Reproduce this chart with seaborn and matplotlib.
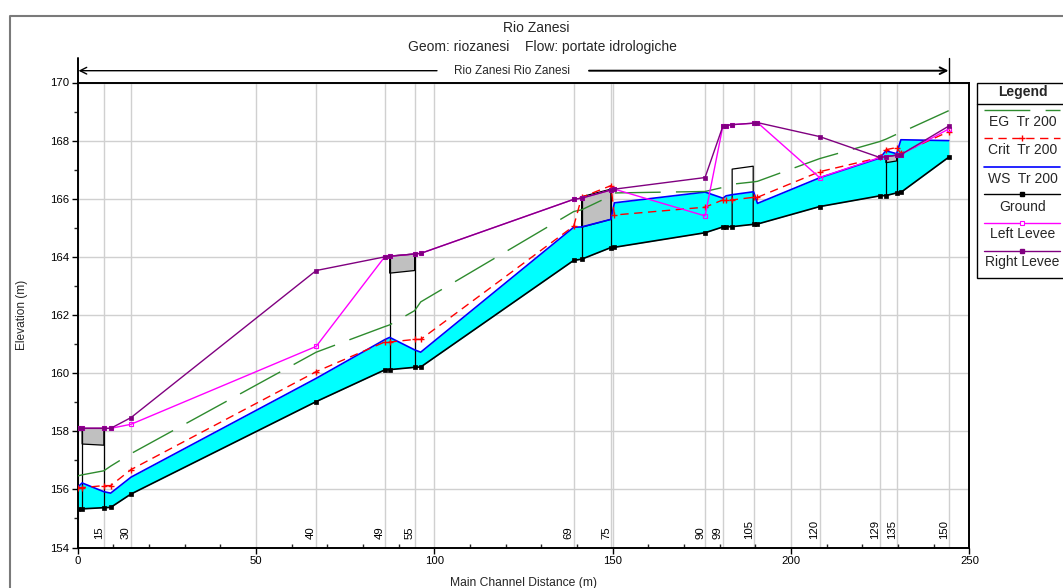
import numpy as np
import pandas as pd
import matplotlib
matplotlib.use("Agg")
import matplotlib.pyplot as plt
import seaborn as sns
from matplotlib.lines import Line2D
from matplotlib.patches import Rectangle

# ---- profile data (main channel distance in m, elevations in m) ----
dist = [0.0, 1.3, 7.4, 9.3, 15.0, 66.9, 86.1, 87.5, 94.5, 96.2,
        139.1, 141.3, 149.5, 150.5, 175.9, 180.9, 181.8, 183.5, 189.5, 190.6,
        208.0, 224.9, 226.6, 229.6, 230.8, 244.2]
ground = [155.32, 155.33, 155.37, 155.38, 155.84, 159.02, 160.11, 160.12, 160.20, 160.21,
          163.88, 163.92, 164.32, 164.33, 164.83, 165.03, 165.04, 165.04, 165.12, 165.13,
          165.73, 166.10, 166.11, 166.20, 166.22, 167.43]
ws_tr200 = [156.07, 156.22, 155.92, 155.87, 156.42, 159.82, 161.15, 161.23, 160.80, 160.72,
            165.02, 165.03, 165.29, 165.86, 166.23, 166.02, 166.10, 166.14, 166.24, 165.84,
            166.72, 167.40, 167.65, 167.55, 168.03, 168.00]
crit_tr200 = [156.06, 156.06, 156.13, 156.13, 156.68, 160.05, 161.07, 161.07, 161.16, 161.16,
              165.06, 166.05, 166.45, 165.44, 165.71, 165.96, 165.96, 165.96, 166.05, 166.05,
              166.93, 167.42, 167.69, 167.76, 167.56, 168.31]
eg_tr200 = [156.46, 156.50, 156.64, 156.80, 157.23, 160.72, 161.60, 161.66, 162.15, 162.45,
            165.56, 165.62, 166.10, 166.20, 166.25, 166.39, 166.42, 166.50, 166.58, 166.60,
            167.38, 167.97, 168.05, 168.22, 168.28, 169.03]
left_levee = [158.10, 158.10, 158.10, 158.10, 158.24, 160.92, 164.00, 164.02, 164.10, 164.12,
              165.98, 166.02, 166.30, 166.33, 165.41, 168.50, 168.52, 168.55, 168.60, 168.62,
              166.73, 167.42, 167.45, 167.50, 167.52, 168.40]
right_levee = [158.10, 158.10, 158.10, 158.10, 158.47, 163.53, 164.00, 164.02, 164.10, 164.12,
               165.98, 166.02, 166.30, 166.33, 166.73, 168.50, 168.52, 168.55, 168.60, 168.62,
               168.14, 167.42, 167.45, 167.50, 167.52, 168.50]

# bridge decks
deck_x0 = [1.3, 87.5, 141.3, 226.6]
deck_x1 = [7.4, 94.5, 149.5, 229.6]
deck_top0 = [158.10, 164.03, 166.07, 167.45]
deck_top1 = [158.10, 164.10, 166.33, 167.50]
deck_low0 = [157.56, 163.44, 165.02, 167.24]
deck_low1 = [157.52, 163.53, 165.29, 167.30]

# open structure (culvert outline)
culv_x = [183.5, 189.4]
culv_top = [167.02, 167.12]

# river station labels
station_labels = ["15", "30", "40", "49", "55", "69", "75", "90", "99", "105",
                  "120", "129", "135", "150"]
station_pos = [7.4, 15.0, 66.9, 86.1, 94.5, 139.1, 149.6, 175.9, 180.9, 189.6,
               208.0, 224.9, 229.6, 244.2]

df = pd.DataFrame({"dist": dist, "ground": ground, "ws": ws_tr200, "crit": crit_tr200,
                   "eg": eg_tr200, "ll": left_levee, "rl": right_levee})

sns.set_theme(style="ticks")
plt.rcParams["font.family"] = ["Liberation Sans", "DejaVu Sans"]

W, H = 1063, 588
fig = plt.figure(figsize=(W / 100, H / 100), dpi=100)


def fx(px):
    return px / W


def fy(py):
    return 1 - py / H


ax = fig.add_axes([fx(77.5), fy(547.5), fx(969.4) - fx(77.5), fy(82.5) - fy(547.5)])

GRID = "#d0d0d0"
ax.set_xlim(0, 250)
ax.set_ylim(154, 170)
ax.set_xticks(np.arange(0, 251, 50))
ax.set_yticks(np.arange(154, 171, 2))
ax.set_xticks(np.arange(0, 251, 10), minor=True)
ax.set_yticks(np.arange(154, 171, 1), minor=True)
ax.grid(True, which="major", color=GRID, lw=1.0, zorder=0)
ax.set_axisbelow(True)
for xs in station_pos:
    ax.axvline(xs, color=GRID, lw=1.0, zorder=0.5)

# water between ground and water surface
ax.fill_between(df["dist"], df["ground"], df["ws"], color="#00ffff", lw=0, zorder=1)

# bridge decks
for x0, x1, t0, t1, l0, l1 in zip(deck_x0, deck_x1, deck_top0, deck_top1, deck_low0, deck_low1):
    ax.fill([x0, x1, x1, x0], [l0, l1, t1, t0], facecolor="#c0c0c0", edgecolor="black",
            lw=0.9, zorder=3)
    g0 = np.interp(x0, dist, ground)
    g1 = np.interp(x1, dist, ground)
    ax.plot([x0, x0], [g0, t0], color="black", lw=0.9, zorder=3)
    ax.plot([x1, x1], [g1, t1], color="black", lw=0.9, zorder=3)

cg0 = np.interp(culv_x[0], dist, ground)
cg1 = np.interp(culv_x[1], dist, ground)
ax.plot([culv_x[0], culv_x[0], culv_x[1], culv_x[1]], [cg0, culv_top[0], culv_top[1], cg1],
        color="black", lw=0.9, zorder=3)

# profile lines
sns.lineplot(data=df, x="dist", y="ws", ax=ax, color="#0000ff", lw=1.2,
             estimator=None, sort=False, zorder=4)
sns.lineplot(data=df, x="dist", y="ground", ax=ax, color="black", lw=1.2, marker="s",
             ms=3.5, mec="black", mew=0.5, estimator=None, sort=False, zorder=5)
sns.lineplot(data=df, x="dist", y="eg", ax=ax, color="#2e8b2e", lw=1.0,
             linestyle=(0, (33, 11)), estimator=None, sort=False, zorder=5)
sns.lineplot(data=df, x="dist", y="crit", ax=ax, color="#ff0000", lw=1.0,
             linestyle=(0, (6, 4)), marker="+", ms=5, mew=1.0, mec="#ff0000",
             estimator=None, sort=False, zorder=6)
sns.lineplot(data=df, x="dist", y="ll", ax=ax, color="#ff00ff", lw=1.0, marker="s",
             ms=3.5, mfc="none", mec="#ff00ff", mew=0.8, estimator=None, sort=False, zorder=6)
sns.lineplot(data=df, x="dist", y="rl", ax=ax, color="#800080", lw=1.0, marker="s",
             ms=3.5, mec="#800080", mew=0.5, estimator=None, sort=False, zorder=7)

# river station labels
for lab, xs in zip(station_labels, station_pos):
    ax.annotate(lab, xy=(xs, 154), xycoords="data", xytext=(-3.6, 5.8),
                textcoords="offset points", rotation=90, ha="center", va="bottom",
                fontsize=8.2, color="black", zorder=8)

# axes styling
for sp in ax.spines.values():
    sp.set_color("black")
    sp.set_linewidth(1.4)
ax.tick_params(axis="both", which="major", direction="out", length=4, width=1,
               labelsize=8.2, colors="black", pad=2, bottom=True, left=True)
ax.tick_params(axis="x", which="minor", direction="in", length=3, width=1, bottom=True)
ax.tick_params(axis="y", which="minor", direction="out", length=3, width=1, left=True)
ax.set_xlabel("Main Channel Distance (m)", fontsize=8.7)
ax.set_ylabel("Elevation (m)", fontsize=8.6)
ax.xaxis.set_label_coords(0.5, -0.063)
ax.yaxis.set_label_coords(-0.056, 0.5)

# outer frame
fig.add_artist(Line2D([fx(9.6), fx(9.6), fx(1070)], [fy(600), fy(15.7), fy(15.7)],
                      color="#7a7a7a", lw=1.5, transform=fig.transFigure))

# titles
fig.text(fx(536), fy(28.3), "Rio Zanesi", ha="center", va="center", fontsize=10)
fig.text(fx(509), fy(46.7), "Geom: riozanesi", ha="right", va="center", fontsize=10)
fig.text(fx(525), fy(46.7), "Flow: portate idrologiche", ha="left", va="center", fontsize=10)

# reach bar
fig.text(fx(512.5), fy(70.7), "Rio Zanesi Rio Zanesi", ha="center", va="center", fontsize=8.5)
ax.annotate("", xy=(fx(78.5), fy(70.7)), xytext=(fx(437), fy(70.7)),
            xycoords="figure fraction", textcoords="figure fraction",
            arrowprops=dict(arrowstyle="->", lw=1.0, color="black", shrinkA=0, shrinkB=0),
            annotation_clip=False)
ax.annotate("", xy=(fx(948.5), fy(70.7)), xytext=(fx(589), fy(70.7)),
            xycoords="figure fraction", textcoords="figure fraction",
            arrowprops=dict(arrowstyle="->", lw=1.4, color="black", shrinkA=0, shrinkB=0),
            annotation_clip=False)
fig.add_artist(Line2D([fx(77.5), fx(77.5)], [fy(58), fy(82.5)], color="black", lw=1.4,
                      transform=fig.transFigure))
fig.add_artist(Line2D([fx(948.7), fx(948.7)], [fy(58), fy(82.5)], color="black", lw=1.0,
                      transform=fig.transFigure))

# legend box
fig.add_artist(Rectangle((fx(976.7), fy(278.3)), fx(1075) - fx(976.7), fy(82.7) - fy(278.3),
                         transform=fig.transFigure, facecolor="white", edgecolor="black",
                         lw=1.0))
fig.add_artist(Line2D([fx(976.7), fx(1075)], [fy(104), fy(104)], color="black", lw=1.0,
                      transform=fig.transFigure))
fig.text(fx(1022.5), fy(92), "Legend", ha="center", va="center", fontsize=10,
         fontweight="bold")

leg_items = [
    ("EG  Tr 200", dict(color="#2e8b2e", lw=1.0, linestyle=(0, (33, 11))), 110, 122.3),
    ("Crit  Tr 200", dict(color="#ff0000", lw=1.0, linestyle=(0, (6, 4))), 138.3, 150.0),
    ("WS  Tr 200", dict(color="#0000ff", lw=1.2), 166.7, 179.0),
    ("Ground", dict(color="black", lw=1.0), 194.3, 206.7),
    ("Left Levee", dict(color="#ff00ff", lw=1.0), 222.7, 234.0),
    ("Right Levee", dict(color="#800080", lw=1.0), 250.7, 262.3),
]
leg_markers = [None, dict(marker="+", ms=5, mew=1.0, color="#ff0000"), None,
               dict(marker="s", ms=3.5, color="black"),
               dict(marker="s", ms=3.5, mfc="white", mec="#ff00ff", mew=0.8),
               dict(marker="s", ms=3.5, color="#800080")]
for (label, style, ly, ty), mk in zip(leg_items, leg_markers):
    fig.add_artist(Line2D([fx(984), fx(1060)], [fy(ly), fy(ly)], transform=fig.transFigure,
                          **style))
    if mk is not None:
        fig.add_artist(Line2D([fx(1022.3)], [fy(ly)], transform=fig.transFigure,
                              linestyle="none", **mk))
    fig.text(fx(1022.5), fy(ty), label, ha="center", va="center", fontsize=10)

fig.savefig("out.png", dpi=100)
